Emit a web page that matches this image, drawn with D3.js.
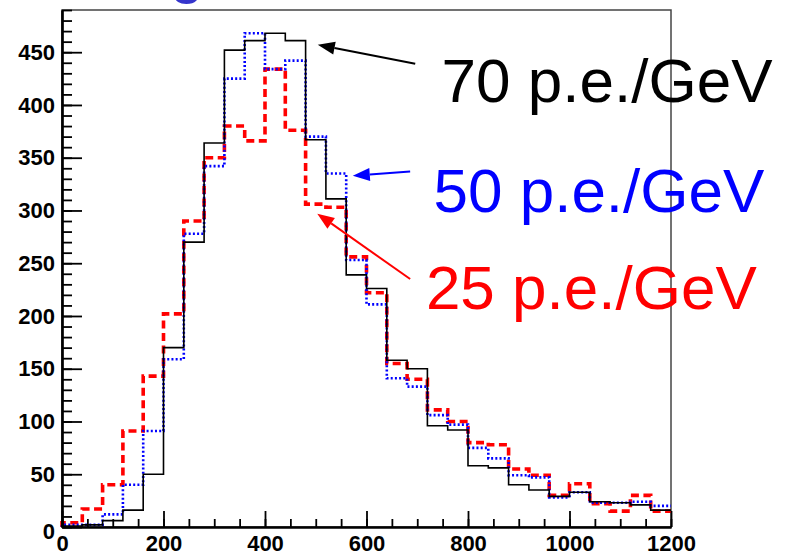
<!DOCTYPE html>
<html>
<head>
<meta charset="utf-8">
<script src="https://cdn.jsdelivr.net/npm/d3@7"></script>
<style>
body { margin: 0; background: #fff; }
svg { display: block; }
</style>
</head>
<body>
<script>

// bin edges: 30 bins of 40 from 0 to 1200
var binWidth = 40;
var binStarts = d3.range(0, 1200, binWidth);

// entries per bin
var pe70 = [1, 2, 6, 16, 50, 170, 270, 364, 452, 461, 468, 461, 367, 311, 239,
            226, 158, 150, 96, 92, 58, 56, 40, 35, 29, 33, 24, 23, 21, 16];
var pe50 = [2, 2, 12, 40, 91, 159, 278, 342, 425, 468, 434, 442, 370, 335, 253,
            211, 141, 133, 106, 97, 75, 65, 49, 47, 28, 33, 23, 23, 24, 20];
var pe25 = [4, 17, 40, 91, 143, 202, 290, 350, 380, 366, 434, 376, 306, 303, 256,
            222, 155, 140, 111, 100, 80, 78, 55, 49, 30, 41, 22, 15, 30, 15];

var seriesNames = ["70 p.e./GeV", "50 p.e./GeV", "25 p.e./GeV"];

// tick values
var yMajor = d3.range(0, 451, 50);
var yMinor = d3.range(0, 491, 10);
var xMajor = d3.range(0, 1201, 200);
var xMinor = d3.range(0, 1201, 50);

var width = 785, height = 552;
var margin = {top: 10, right: 114, bottom: 25, left: 62};

var svg = d3.select("body").append("svg")
    .attr("width", width)
    .attr("height", height);

var x = d3.scaleLinear().domain([0, 1200]).range([margin.left, width - margin.right]);
var y = d3.scaleLinear().domain([0, 490]).range([height - margin.bottom, margin.top]);

// cut-off title fragment at the very top
svg.append("text")
    .attr("x", 187).attr("y", -8.5)
    .attr("text-anchor", "middle")
    .attr("fill", "#3535cc")
    .style("font", "60px 'Liberation Sans', Arial, sans-serif")
    .text("g");

// frame, top and right
svg.append("rect")
    .attr("x", x(0)).attr("y", y(490))
    .attr("width", x(1200) - x(0)).attr("height", y(0) - y(490))
    .attr("fill", "none")
    .attr("stroke", "#444")
    .attr("stroke-width", 1.5);

//step outline of a histogram
function stepPath(vals) {
    var p = d3.path();
    p.moveTo(x(0), y(0));
    vals.forEach(function (v, i) {
        p.lineTo(x(binStarts[i]), y(v));
        p.lineTo(x(binStarts[i] + binWidth), y(v));
    });
    return p.toString();
}

var styles = [
    {data: pe70, color: "#000", width: 1.6, dash: null},
    {data: pe50, color: "#0000ff", width: 2.6, dash: "2,2.2"},
    {data: pe25, color: "#ff0000", width: 3.6, dash: "8,4.5"}
];

svg.append("g").selectAll("path")
    .data(styles.slice().reverse())
    .enter().append("path")
    .attr("d", function (d) { return stepPath(d.data); })
    .attr("fill", "none")
    .attr("stroke", function (d) { return d.color; })
    .attr("stroke-width", function (d) { return d.width; })
    .attr("stroke-dasharray", function (d) { return d.dash; });

// axes
var axisFont = "bold 22px 'Liberation Sans', Arial, sans-serif";

var yAxis = svg.append("g").attr("transform", "translate(" + x(0) + ",0)");
yAxis.append("g")
    .call(d3.axisLeft(y).tickValues(yMinor).tickSize(-10).tickSizeOuter(0).tickFormat(""));
yAxis.append("g")
    .call(d3.axisLeft(y).tickValues(yMajor).tickSize(-20).tickSizeOuter(0).tickPadding(7).tickFormat(d3.format("d")));

var xAxis = svg.append("g").attr("transform", "translate(0," + y(0) + ")");
xAxis.append("g")
    .call(d3.axisBottom(x).tickValues(xMinor).tickSize(-8).tickSizeOuter(0).tickFormat(""));
xAxis.append("g")
    .call(d3.axisBottom(x).tickValues(xMajor).tickSize(-16).tickSizeOuter(0).tickPadding(8).tickFormat(d3.format("d")));

svg.selectAll(".domain").attr("stroke", "#000").attr("stroke-width", 2.2);
svg.selectAll(".tick line").attr("stroke", "#000").attr("stroke-width", 1.8);
svg.selectAll(".tick text")
    .style("font", axisFont)
    .attr("fill", "#000");

// y "0" label sits a bit low, like in ROOT
yAxis.selectAll(".tick text").filter(function (d) { return d === 0; }).attr("dy", "0.5em");

// annotations: arrow tip and tail in data units, label position in data units
var notes = [
    {name: seriesNames[0], color: "#000", tip: [504, 457], tail: [696, 439], label: [748, 403]},
    {name: seriesNames[1], color: "#0000ff", tip: [573, 333], tail: [686, 337], label: [732, 299]},
    {name: seriesNames[2], color: "#ff0000", tip: [503, 297], tail: [686, 235], label: [717, 207]}
];

notes.forEach(function (n) {
    var x1 = x(n.tail[0]), y1 = y(n.tail[1]);
    var x2 = x(n.tip[0]), y2 = y(n.tip[1]);
    var ang = Math.atan2(y2 - y1, x2 - x1);
    var len = 17, half = 6.5;
    var bx = x2 - len * Math.cos(ang), by = y2 - len * Math.sin(ang);
    svg.append("line")
        .attr("x1", x1).attr("y1", y1)
        .attr("x2", bx).attr("y2", by)
        .attr("stroke", n.color)
        .attr("stroke-width", 2);
    svg.append("path")
        .attr("d", "M" + x2 + "," + y2 +
            "L" + (bx + half * Math.sin(ang)) + "," + (by - half * Math.cos(ang)) +
            "L" + (bx - half * Math.sin(ang)) + "," + (by + half * Math.cos(ang)) + "Z")
        .attr("fill", n.color);
    svg.append("text")
        .attr("x", x(n.label[0])).attr("y", y(n.label[1]))
        .attr("fill", n.color)
        .style("font", "62px 'Liberation Sans', Arial, sans-serif")
        .text(n.name);
});

</script>
</body>
</html>
